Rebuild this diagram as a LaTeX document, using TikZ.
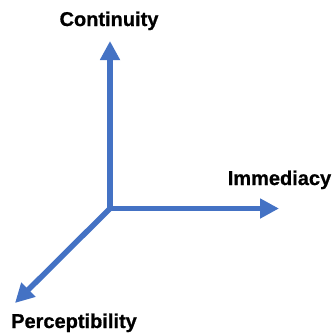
\documentclass[tikz,border=0pt]{standalone}
\usepackage{fontspec}
\setmainfont{Liberation Sans}
\newfontfamily\heavyfont[FakeBold=0.8]{Liberation Sans Bold}
\usetikzlibrary{arrows.meta}
\definecolor{axisblue}{RGB}{68,114,196}
\begin{document}
\begin{tikzpicture}[x=1pt,y=-1pt,
  axis/.style={draw=axisblue,line width=5.5pt,-{Triangle[width=19pt,length=19pt]}},
  lab/.style={font=\fontsize{20}{24}\heavyfont,anchor=base,inner sep=0pt}]
\useasboundingbox (0,0) rectangle (335,333);
\coordinate (o) at (110,208.5);
\coordinate (up) at (110,41);
\coordinate (right) at (279,208.5);
\coordinate (dl) at (15,303);
\draw[axis] (o) -- (up);
\draw[axis] (o) -- (right);
\draw[axis] (o) -- (dl);
\node[lab] (cont) at (109,26) {Continuity};
\node[lab] (imm) at (279.5,185) {Immediacy};
\node[lab] (perc) at (74,328) {Perceptibility};
\end{tikzpicture}
\end{document}
